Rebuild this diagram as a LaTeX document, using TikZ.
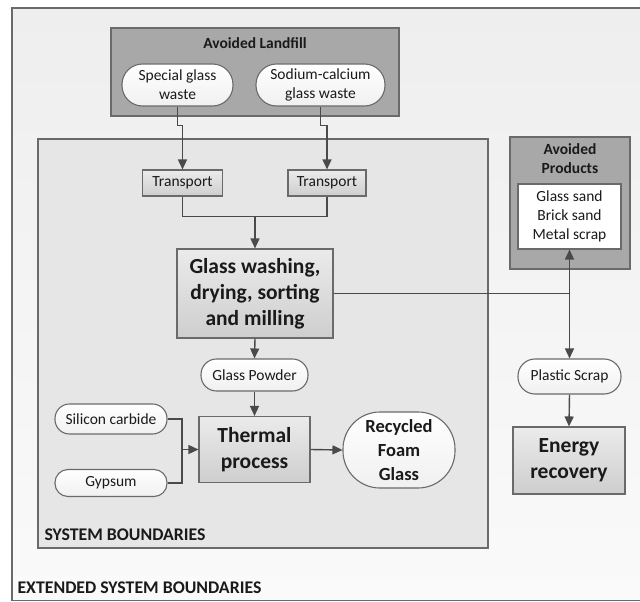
\documentclass[tikz,border=0pt]{standalone}
\usepackage{fontspec}
\setmainfont{Carlito}
\usetikzlibrary{arrows.meta}
\definecolor{edge}{HTML}{6A6A6A}
\definecolor{wire}{HTML}{4A4A4A}
\definecolor{ink}{HTML}{1A1A1A}
\definecolor{outerbg}{HTML}{EEEEEE}
\definecolor{outerbgb}{HTML}{FAFAFA}
\definecolor{sysbg}{HTML}{E6E6E6}
\definecolor{darkbg}{HTML}{A8A8A8}
\definecolor{proctop}{HTML}{EBEBEB}
\definecolor{procbot}{HTML}{CECECE}
\definecolor{ovalbot}{HTML}{F0F0F0}
\newcommand{\smallfs}{\fontsize{15.5}{19}\selectfont}
\newcommand{\bigfs}{\fontsize{21.5}{26}\selectfont\bfseries}
\newcommand{\midfs}{\fontsize{18.5}{24}\selectfont\bfseries}
\newcommand{\labfs}{\fontsize{17.8}{21}\selectfont\bfseries}
\begin{document}
\begin{tikzpicture}[x=1pt,y=-1pt,
  box/.style={draw=edge, line width=1.1pt, rectangle, inner sep=0pt,
    align=center, text=ink},
  proc/.style={box, top color=proctop, bottom color=procbot},
  oval/.style={box, top color=white, bottom color=ovalbot},
  frame/.style={draw=edge, line width=1.2pt},
  wireline/.style={draw=wire, line width=1.4pt},
  flow/.style={wireline, -{Triangle[length=10pt,width=9pt]}}]
\useasboundingbox (0,0) rectangle (640,602);

% extended system boundary (runs off the right side)
\path[frame, top color=outerbg, bottom color=outerbgb] (12,8) rectangle (660,600.5);

% avoided landfill group
\path[frame, fill=darkbg] (111,28) rectangle (399,116);
\node[text=ink, font=\smallfs\bfseries] (lftitle) at (255,43) {Avoided Landfill};
\node[oval, rounded corners=20.5pt, minimum width=111pt, minimum height=42pt, font=\smallfs]
  (sg) at (177.5,85) {Special glass\\waste};
\node[oval, rounded corners=20.5pt, minimum width=129pt, minimum height=42pt, font=\smallfs]
  (sc) at (320.5,85) {Sodium-calcium\\glass waste};

% system boundary
\path[frame, fill=sysbg] (38,139) rectangle (488,548);
\node[anchor=west, text=ink, font=\labfs] (sysl) at (41,535) {SYSTEM BOUNDARIES};
\node[anchor=west, text=ink, font=\labfs] (extl) at (14,588) {EXTENDED SYSTEM BOUNDARIES};

% avoided products group
\path[frame, fill=darkbg] (510,137) rectangle (630,269);
\node[text=ink, font=\smallfs\bfseries, align=center] (aptitle) at (570,158.5) {Avoided\\Products};
\node[box, fill=white, minimum width=103pt, minimum height=65pt, font=\smallfs]
  (apin) at (569.5,216.5) {Glass sand\\Brick sand\\Metal scrap};

% process nodes
\node[proc, minimum width=80pt, minimum height=26pt, font=\smallfs] (t1) at (182.5,183) {Transport};
\node[proc, minimum width=78pt, minimum height=26pt, font=\smallfs] (t2) at (327,183) {Transport};
\node[proc, minimum width=156pt, minimum height=89pt, font=\bigfs]
  (gw) at (255,293.5) {Glass washing,\\drying, sorting\\and milling};
\node[oval, rounded corners=15.5pt, minimum width=107pt, minimum height=32pt, font=\smallfs]
  (gp) at (254.5,375) {Glass Powder};
\node[proc, minimum width=111pt, minimum height=66pt, font=\bigfs]
  (th) at (254.5,449.5) {Thermal\\process};
\node[oval, rounded corners=14.5pt, minimum width=112pt, minimum height=30pt, font=\smallfs]
  (sic) at (111,419) {Silicon carbide};
\node[oval, rounded corners=13pt, minimum width=112pt, minimum height=27pt, font=\smallfs]
  (gy) at (111,483) {Gypsum};
\node[oval, rounded corners=37pt, minimum width=112pt, minimum height=76pt, font=\midfs]
  (rfg) at (399,450) {Recycled\\Foam\\Glass};
\node[oval, rounded corners=17pt, minimum width=103pt, minimum height=35pt, font=\smallfs]
  (ps) at (569.5,376.5) {Plastic Scrap};
\node[proc, minimum width=112pt, minimum height=67pt, font=\bigfs]
  (er) at (569,460.5) {Energy\\recovery};

% connectors
\draw[flow] (sg.south) -- ++(0,19) -| (t1.north);
\draw[flow] (sc.south) -- ++(0,19) -| (t2.north);
\draw[wireline] (t1.south) -- ++(0,20) coordinate (tj) -| (t2.south);
\draw[flow] (tj -| gw.north) -- (gw.north);
\draw[flow] (gw.south) -- (gp.north);
\draw[flow] (gp.south) -- (th.north);
\coordinate (addj) at (182,449.5);
\draw[wireline] (sic.east) -| (addj);
\draw[wireline] (gy.east) -| (addj);
\draw[flow] (addj) -- (th.west);
\draw[flow] (th.east) -- (rfg.west);
\coordinate (br) at (gw.east -| ps.north);
\draw[wireline] (gw.east) -- (br);
\draw[flow] (br) -- (apin.south);
\draw[flow] (br) -- (ps.north);
\draw[flow] (ps.south) -- (er.north);
\end{tikzpicture}
\end{document}
